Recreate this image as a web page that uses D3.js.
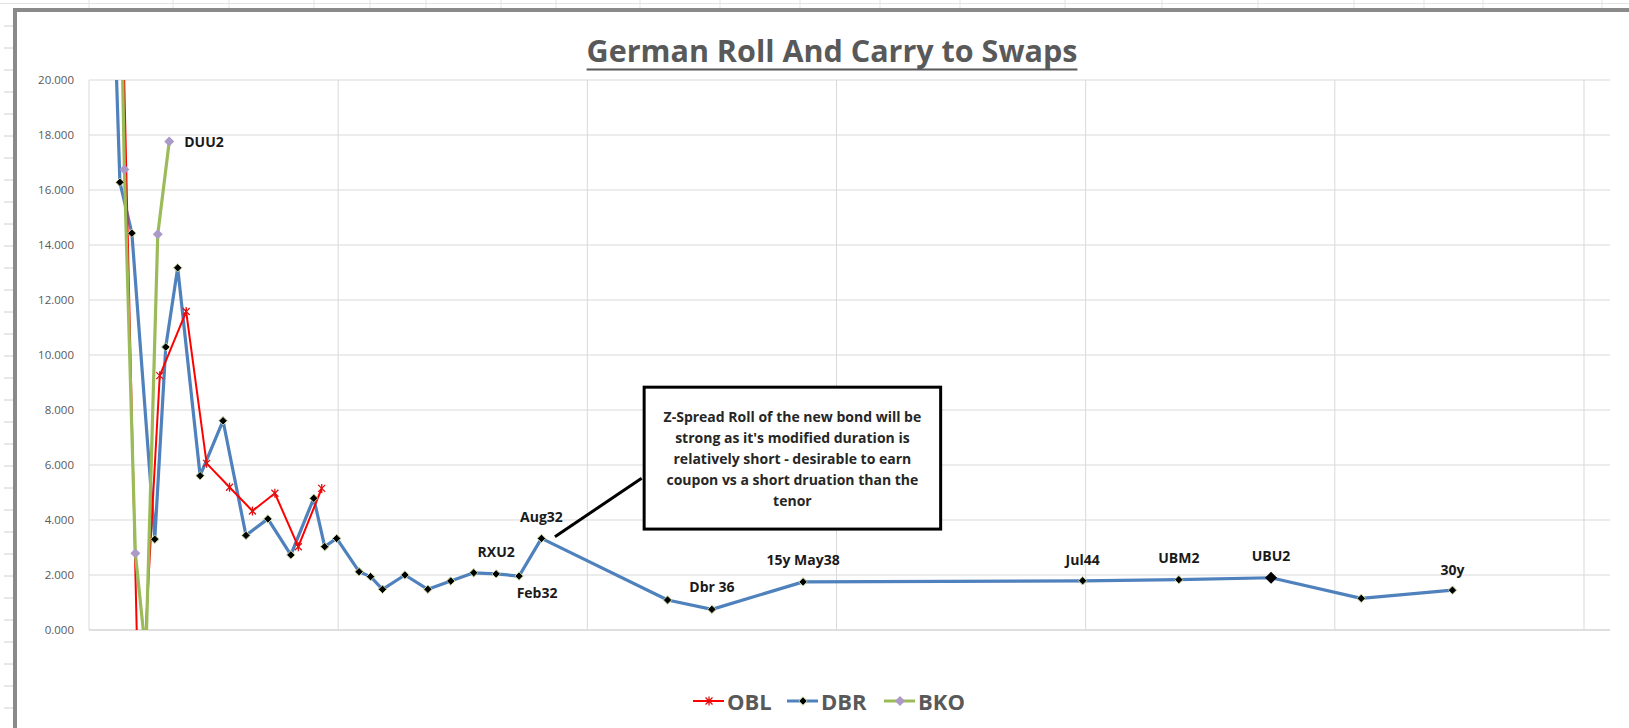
<!DOCTYPE html>
<html lang="en">
<head>
<meta charset="UTF-8">
<title>German Roll And Carry to Swaps</title>
<script src="https://d3js.org/d3.v7.min.js"></script>
<style>
  body { margin: 0; background: #fff; overflow: hidden; font-family: "Open Sans", Arial, sans-serif; }
  .grid line { stroke-width: 1px; }
  .plabel { font-size: 14px; font-weight: bold; fill: #1a1a1a; }
  .legend text { font-size: 22px; font-weight: bold; fill: #595959; }
  .callout text { font-size: 14px; font-weight: bold; fill: #262626; }
</style>
</head>
<body>
<svg width="1629" height="728"></svg>
<script>
// x = modified duration, y = roll + carry to swaps
const oblDur = [0.64, 1.01, 1.42, 1.95, 2.36, 2.82, 3.28, 3.73, 4.20, 4.67];
const oblVal = [25.3, -4.2, 9.25, 11.58, 6.06, 5.19, 4.33, 4.97, 3.03, 5.15];

const dbrDur = [0.50, 0.62, 0.86, 1.32, 1.54, 1.78, 2.23, 2.69, 3.15, 3.59, 4.05, 4.51, 4.73, 4.97,
                5.42, 5.65, 5.89, 6.34, 6.80, 7.26, 7.72, 8.17, 8.63, 9.08, 11.61, 12.50, 14.33,
                19.94, 21.87, 23.72, 25.53, 27.36];
const dbrVal = [23.0, 16.28, 14.43, 3.30, 10.29, 13.17, 5.61, 7.61, 3.44, 4.04, 2.73, 4.79, 3.03, 3.33,
                2.12, 1.94, 1.48, 2.00, 1.48, 1.78, 2.08, 2.04, 1.96, 3.33, 1.09, 0.75, 1.75,
                1.79, 1.83, 1.90, 1.15, 1.45];
const dbrNames = ["", "", "", "", "", "", "", "", "", "", "", "", "", "",
                  "", "", "", "", "", "", "", "RXU2", "Feb32", "Aug32", "", "Dbr 36", "15y May38",
                  "Jul44", "UBM2", "UBU2", "", "30y"];

const bkoDur = [0.65, 0.71, 0.93, 1.14, 1.38, 1.61];
const bkoVal = [22.5, 16.75, 2.79, -0.9, 14.39, 17.76];
const bkoNames = ["", "", "", "", "", "DUU2"];

const seriesNames = ["OBL", "DBR", "BKO"];
const yTicks = [0, 2, 4, 6, 8, 10, 12, 14, 16, 18, 20];
const xTicks = [0, 5, 10, 15, 20, 25, 30];

const calloutLines = [
  "Z-Spread Roll of the new bond will be",
  "strong as it's modified duration is",
  "relatively short - desirable to earn",
  "coupon vs a short druation than the",
  "tenor"
];
// callout box and leader, in chart units (duration, value)
const calloutBox = { x0: 11.14, x1: 17.09, top: 8.83, bottom: 3.67 };
const leader = { x0: 9.35, y0: 3.39, x1: 11.09, y1: 5.52 };

const svg = d3.select("svg");
const plotL = 89, plotR = 1610, plotT = 80, plotB = 630;

const x = d3.scaleLinear().domain([0, 30]).range([plotL, 1584]);
const y = d3.scaleLinear().domain([0, 20]).range([plotB, plotT]);

// spreadsheet frame behind the chart
const sheet = svg.append("g");
sheet.append("line").attr("x1", 0).attr("x2", 1629).attr("y1", 3.5).attr("y2", 3.5)
  .attr("stroke", "#e3e3e3");
[89, 173, 229, 314, 370, 426, 501, 556, 640, 720, 800, 880, 960, 1065, 1162, 1258, 1354, 1424, 1483, 1602]
  .forEach(v => sheet.append("line").attr("x1", v).attr("x2", v).attr("y1", 0).attr("y2", 8)
    .attr("stroke", "#e3e3e3"));
d3.range(26, 728, 22).forEach(v => sheet.append("line").attr("x1", 4).attr("x2", 13)
  .attr("y1", v).attr("y2", v).attr("stroke", "#d0d0d0"));

// chart border (top and left visible)
svg.append("path")
  .attr("d", "M15,728 L15,10 L1629,10")
  .attr("fill", "none").attr("stroke", "#8a8a8a").attr("stroke-width", 4);

// title
const title = svg.append("text")
  .attr("x", 832).attr("y", 62)
  .attr("text-anchor", "middle")
  .style("font-size", "30.5px").style("font-weight", "bold").style("fill", "#595959")
  .text("German Roll And Carry to Swaps");
const tb = title.node().getBBox();
svg.append("line")
  .attr("x1", tb.x).attr("x2", tb.x + tb.width).attr("y1", 69.5).attr("y2", 69.5)
  .attr("stroke", "#595959").attr("stroke-width", 2);

// gridlines
const grid = svg.append("g").attr("class", "grid");
grid.selectAll(".h").data(yTicks).join("line")
  .attr("x1", plotL).attr("x2", plotR)
  .attr("y1", d => y(d)).attr("y2", d => y(d))
  .attr("stroke", d => d === 0 ? "#bfbfbf" : "#d9d9d9");
grid.selectAll(".v").data(xTicks).join("line")
  .attr("x1", d => x(d)).attr("x2", d => x(d))
  .attr("y1", plotT).attr("y2", plotB)
  .attr("stroke", "#d9d9d9");

// y axis labels
const yAxis = svg.append("g")
  .attr("transform", `translate(${plotL},0)`)
  .call(d3.axisLeft(y).tickValues(yTicks).tickFormat(d3.format(".3f")).tickSize(0).tickPadding(15));
yAxis.select(".domain").remove();
yAxis.selectAll("text").style("font-family", "'Open Sans', Arial, sans-serif")
  .style("font-size", "11.5px").attr("fill", "#595959");

// clip to plot area
svg.append("defs").append("clipPath").attr("id", "plot")
  .append("rect").attr("x", plotL).attr("y", plotT).attr("width", plotR - plotL).attr("height", plotB - plotT);

const line = d3.line().x(d => x(d[0])).y(d => y(d[1]));
const obl = oblDur.map((d, i) => [d, oblVal[i]]);
const dbr = dbrDur.map((d, i) => [d, dbrVal[i], dbrNames[i]]);
const bko = bkoDur.map((d, i) => [d, bkoVal[i], bkoNames[i]]);

const diamond = r => `M0,${-r}L${r},0L0,${r}L${-r},0Z`;
const star = r => `M${-r},${-r}L${r},${r}M${-r},${r}L${r},${-r}M0,${-r - 1}L0,${r + 1}`;

const plot = svg.append("g").attr("clip-path", "url(#plot)");

// DBR
plot.append("path").datum(dbr).attr("d", line)
  .attr("fill", "none").attr("stroke", "#4f81bd").attr("stroke-width", 3.2).attr("stroke-linejoin", "round");
// OBL
plot.append("path").datum(obl).attr("d", line)
  .attr("fill", "none").attr("stroke", "#ff0000").attr("stroke-width", 2);
// BKO
plot.append("path").datum(bko).attr("d", line)
  .attr("fill", "none").attr("stroke", "#9bbb59").attr("stroke-width", 3.2);

plot.selectAll(".dbrm").data(dbr).join("path")
  .attr("transform", d => `translate(${x(d[0])},${y(d[1])})`)
  .attr("d", d => diamond(d[2] === "UBU2" ? 6 : 4.2))
  .attr("fill", "#000").attr("stroke", "#c3d69b").attr("stroke-width", d => d[2] === "UBU2" ? 0 : 1);

plot.selectAll(".oblm").data(obl).join("path")
  .attr("transform", d => `translate(${x(d[0])},${y(d[1])})`)
  .attr("d", star(3.5))
  .attr("fill", "none").attr("stroke", "#e01010").attr("stroke-width", 1.3);

plot.selectAll(".bkom").data(bko).join("path")
  .attr("transform", d => `translate(${x(d[0])},${y(d[1])})`)
  .attr("d", diamond(5))
  .attr("fill", "#ab9ac8");

// point labels: offset from the point, anchor
const labelPlace = {
  "RXU2": [0, -17, "middle"], "Feb32": [18, 22, "middle"], "Aug32": [0, -16, "middle"],
  "Dbr 36": [0, -17, "middle"], "15y May38": [0, -17, "middle"], "Jul44": [0, -16, "middle"],
  "UBM2": [0, -17, "middle"], "UBU2": [0, -17, "middle"], "30y": [0, -15, "middle"],
  "DUU2": [15, 5, "start"]
};
svg.append("g").selectAll("text").data(dbr.concat(bko).filter(d => d[2])).join("text")
  .attr("class", "plabel")
  .attr("x", d => x(d[0]) + labelPlace[d[2]][0])
  .attr("y", d => y(d[1]) + labelPlace[d[2]][1])
  .attr("text-anchor", d => labelPlace[d[2]][2])
  .text(d => d[2]);

// callout
const co = svg.append("g").attr("class", "callout");
co.append("line")
  .attr("x1", x(leader.x0)).attr("y1", y(leader.y0))
  .attr("x2", x(leader.x1)).attr("y2", y(leader.y1))
  .attr("stroke", "#000").attr("stroke-width", 3);
co.append("rect")
  .attr("x", x(calloutBox.x0)).attr("y", y(calloutBox.top))
  .attr("width", x(calloutBox.x1) - x(calloutBox.x0))
  .attr("height", y(calloutBox.bottom) - y(calloutBox.top))
  .attr("fill", "#fff").attr("stroke", "#000").attr("stroke-width", 3);
const cx = (x(calloutBox.x0) + x(calloutBox.x1)) / 2;
co.selectAll("text").data(calloutLines).join("text")
  .attr("x", cx)
  .attr("y", (d, i) => y(calloutBox.top) + 35 + i * 20.9)
  .attr("text-anchor", "middle")
  .text(d => d);

// legend
const legend = svg.append("g").attr("class", "legend");
const legX = [693, 787, 884];
const legColors = ["#ff0000", "#4f81bd", "#9bbb59"];
seriesNames.forEach((name, i) => {
  const g = legend.append("g").attr("transform", `translate(${legX[i]},701)`);
  g.append("line").attr("x1", 0).attr("x2", 31).attr("stroke", legColors[i])
    .attr("stroke-width", i === 0 ? 2 : 3);
  if (i === 0) {
    g.append("path").attr("transform", "translate(16,0)").attr("d", star(3.5))
      .attr("fill", "none").attr("stroke", "#e01010").attr("stroke-width", 1.3);
  } else if (i === 1) {
    g.append("path").attr("transform", "translate(16,0)").attr("d", diamond(4.2))
      .attr("fill", "#000").attr("stroke", "#c3d69b");
  } else {
    g.append("path").attr("transform", "translate(16,0)").attr("d", diamond(5)).attr("fill", "#ab9ac8");
  }
  g.append("text").attr("x", 34).attr("y", 9).text(name);
});
</script>
</body>
</html>
